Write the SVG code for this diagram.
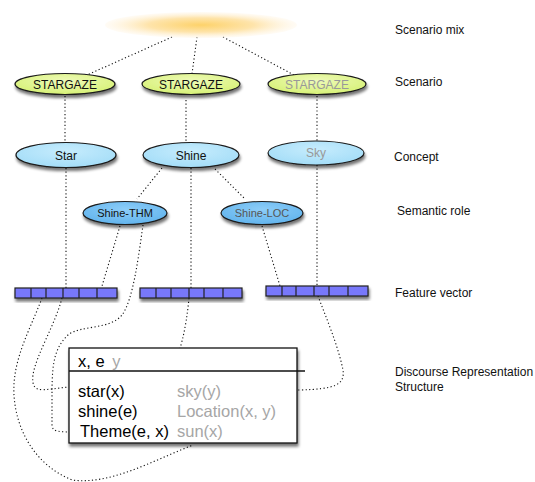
<svg xmlns="http://www.w3.org/2000/svg" width="535" height="482" viewBox="0 0 535 482">
<defs>
<radialGradient id="mix" cx="0.5" cy="0.5" r="0.5">
<stop offset="0" stop-color="#fdd26a"/>
<stop offset="0.55" stop-color="#fee4ab"/>
<stop offset="1" stop-color="#fff8ec" stop-opacity="0.5"/>
</radialGradient>
<radialGradient id="gYel" cx="0.5" cy="0.35" r="0.6">
<stop offset="0" stop-color="#eefab8"/>
<stop offset="1" stop-color="#d8f27a"/>
</radialGradient>
<radialGradient id="gCon" cx="0.5" cy="0.35" r="0.6">
<stop offset="0" stop-color="#c6ecfd"/>
<stop offset="1" stop-color="#a6def8"/>
</radialGradient>
<radialGradient id="gSem" cx="0.5" cy="0.35" r="0.6">
<stop offset="0" stop-color="#8dcdf8"/>
<stop offset="1" stop-color="#65b6ee"/>
</radialGradient>
<filter id="sh" x="-20%" y="-40%" width="140%" height="190%">
<feGaussianBlur in="SourceAlpha" stdDeviation="1.5"/>
<feOffset dx="1" dy="2.5" result="b"/>
<feComponentTransfer><feFuncA type="linear" slope="0.55"/></feComponentTransfer>
<feMerge><feMergeNode/><feMergeNode in="SourceGraphic"/></feMerge>
</filter>
</defs>
<style>
.n{stroke:#1a1a1a;stroke-width:1.2;filter:url(#sh)}
.y{fill:url(#gYel)}
.c{fill:url(#gCon)}
.s{fill:url(#gSem)}
.t{font-family:"Liberation Sans",Arial,sans-serif;font-size:12px;text-anchor:middle;fill:#111}
.ts{font-size:11px}
.g{fill:#999}
.lab{font-family:"Liberation Sans",Arial,sans-serif;font-size:12px;fill:#111}
.e{fill:none;stroke:#111;stroke-width:1.1;stroke-dasharray:1.2 2.4}
.fv{fill:#7878fa;stroke:#222;stroke-width:1.2;filter:url(#sh)}
.dv{stroke:#222;stroke-width:1.2}
.drs{font-family:"Liberation Sans",Arial,sans-serif;font-size:16.5px;fill:#000}
.dg{fill:#a6a6a6}
</style>

<g id="connectors">
<path class="e" d="M172,37 L87,75"/>
<path class="e" d="M197,37 L192,74"/>
<path class="e" d="M223,37 L294,75"/>
<path class="e" d="M65,96 L65,143"/>
<path class="e" d="M186,100 L186,143"/>
<path class="e" d="M317,96 L317,142"/>
<path class="e" d="M66,168 L66,288"/>
<path class="e" d="M191,168 L191,288"/>
<path class="e" d="M317,165 L317,286"/>
<path class="e" d="M162,168 L137,199"/>
<path class="e" d="M215,169 L245,199"/>
<path class="e" d="M120,226 L102,286"/>
<path class="e" d="M262,226 L280,286"/>
<path class="e" d="M143,225 C138,260 133,300 122,315 C110,330 80,325 68,335 C52,350 52,370 52,400 L52,425 C52,432 60,432 75,432"/>
<path class="e" d="M62,298 C55,325 36,355 33,375 C31,392 40,390 52,389 L68,387"/>
<path class="e" d="M42,298 C30,330 12,360 14,395 C16,430 35,465 72,480 C110,485 150,462 193,445"/>
<path class="e" d="M189,298 C186,330 180,355 170,372 C162,385 155,393 148,400"/>
<path class="e" d="M318,296 C325,315 338,345 343,370 C345,385 335,389 300,390 L233,388"/>
</g>

<g id="scenario-mix">
<ellipse cx="201" cy="25" rx="96" ry="13" fill="url(#mix)"/>
</g>

<g id="stargaze-1">
<ellipse class="n y" cx="65" cy="84" rx="50" ry="10.5"/>
<text class="t" x="65" y="88.5">STARGAZE</text>
</g>
<g id="stargaze-2">
<ellipse class="n y" cx="191" cy="84" rx="49" ry="10.5"/>
<text class="t" x="191" y="88.5">STARGAZE</text>
</g>
<g id="stargaze-3">
<ellipse class="n y" cx="317" cy="84" rx="49" ry="10.5"/>
<text class="t g" x="317" y="88.5">STARGAZE</text>
</g>

<g id="star">
<ellipse class="n c" cx="66" cy="155" rx="50" ry="12.5"/>
<text class="t" x="66" y="159.5">Star</text>
</g>
<g id="shine">
<ellipse class="n c" cx="191" cy="155" rx="48" ry="12.5"/>
<text class="t" x="191" y="159.5">Shine</text>
</g>
<g id="sky">
<ellipse class="n c" cx="316" cy="153" rx="48" ry="12"/>
<text class="t g" x="316" y="157">Sky</text>
</g>

<g id="shine-thm">
<ellipse class="n s" cx="125" cy="213" rx="42" ry="11.5"/>
<text class="t ts" x="125" y="217">Shine-THM</text>
</g>
<g id="shine-loc">
<ellipse class="n s" cx="262" cy="213" rx="41" ry="11.5"/>
<text class="t ts" x="262" y="217" style="fill:#555">Shine-LOC</text>
</g>

<g id="vector-1">
<rect class="fv" x="15" y="288" width="102" height="10"/>
<path class="dv" d="M31,288V298M46,288V298M63,288V298M79,288V298M97,288V298"/>
</g>
<g id="vector-2">
<rect class="fv" x="140" y="288" width="102" height="10"/>
<path class="dv" d="M156,288V298M171,288V298M189,288V298M204,288V298M223,288V298"/>
</g>
<g id="vector-3">
<rect class="fv" x="266" y="286" width="102" height="10"/>
<path class="dv" d="M282,286V296M296,286V296M314,286V296M329,286V296M348,286V296"/>
</g>

<g id="drs">
<rect x="69" y="348" width="228" height="95" fill="#fff" stroke="#111" stroke-width="1.3" filter="url(#sh)"/>
<line x1="69" y1="371" x2="305" y2="371" stroke="#111" stroke-width="1.5"/>
<text class="drs" x="78" y="367">x, e <tspan class="dg" dx="3">y</tspan></text>
<text class="drs" x="78" y="397">star(x)</text>
<text class="drs" x="78" y="417">shine(e)</text>
<text class="drs" x="80" y="437">Theme(e, x)</text>
<text class="drs dg" x="177" y="397">sky(y)</text>
<text class="drs dg" x="177" y="417">Location(x, y)</text>
<text class="drs dg" x="177" y="437">sun(x)</text>
</g>

<g id="labels">
<text class="lab" x="395" y="34">Scenario mix</text>
<text class="lab" x="395" y="86">Scenario</text>
<text class="lab" x="394" y="161">Concept</text>
<text class="lab" x="397" y="215">Semantic role</text>
<text class="lab" x="395" y="297">Feature vector</text>
<text class="lab" x="395" y="376">Discourse Representation</text>
<text class="lab" x="395" y="391">Structure</text>
</g>
</svg>
